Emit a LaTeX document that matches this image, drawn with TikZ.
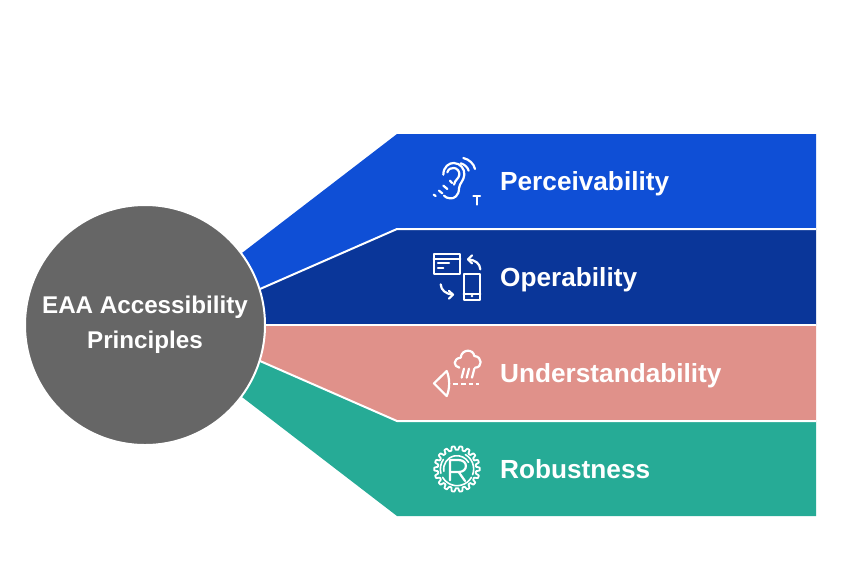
\documentclass[tikz,border=0pt]{standalone}
\usepackage{fontspec}
\setmainfont{Liberation Sans}
\definecolor{cblue}{HTML}{0F4FD6}
\definecolor{cnavy}{HTML}{0A3699}
\definecolor{cpink}{HTML}{E0918A}
\definecolor{cteal}{HTML}{26AB96}
\definecolor{cgrey}{HTML}{666666}
\tikzset{
  lbl/.style={text=white,font=\bfseries\fontsize{26.2}{31}\selectfont,anchor=base west,inner sep=0pt},
  hub/.style={circle,fill=cgrey,draw=white,line width=2pt,minimum size=240pt,inner sep=0pt,align=center,text=white,font=\bfseries\fontsize{24.2}{35}\selectfont},
  ico/.style={draw=white,line width=2.2pt,line cap=round,line join=round},
  icof/.style={x=0.3333pt,y=-0.3333pt}
}
\begin{document}
\begin{tikzpicture}[x=1pt,y=-1pt]
\useasboundingbox (0,0) rectangle (843,566);
% bands
\fill[cblue] (242,253) -- (397,134) -- (816,134) -- (816,229) -- (397,229) -- (260,289) -- cycle;
\fill[cteal] (242,397) -- (397,516) -- (816,516) -- (816,421) -- (397,421) -- (260,361) -- cycle;
\fill[cnavy] (260,289) -- (397,229) -- (816,229) -- (816,325) -- (262,325) -- cycle;
\fill[cpink] (260,361) -- (397,421) -- (816,421) -- (816,325) -- (262,325) -- cycle;
\draw[white,line width=2pt] (260,289) -- (397,229) -- (816,229);
\draw[white,line width=2pt] (262,325) -- (816,325);
\draw[white,line width=2pt] (260,361) -- (397,421) -- (816,421);
% hub
\node[hub] (hub) at (145,325) {EAA Accessibility\\Principles};
% labels
\node[lbl] (p) at (500,190.5) {Perceivability};
\node[lbl] (o) at (500,286.5) {Operability};
\node[lbl] (u) at (500,382.5) {Understandability};
\node[lbl] (r) at (500,478.5) {Robustness};
% ear icon
\begin{scope}[shift={(430,154)},icof]
\draw[ico] (40,62) .. controls (40,38) and (58,26) .. (72,27) .. controls (92,28) and (104,45) .. (103,62) .. controls (102,80) and (88,88) .. (87,103) .. controls (87,125) and (72,135) .. (60,133) .. controls (52,133) and (46,129) .. (42,125);
\draw[ico] (52,55) .. controls (55,44) and (65,41) .. (72,42) .. controls (82,43) and (89,52) .. (88,62) .. controls (87,74) and (74,78) .. (72,92);
\draw[ico] (100,12) .. controls (118,16) and (132,30) .. (135,45);
\draw[ico] (92,28) .. controls (104,31) and (113,40) .. (116,50);
\draw[ico] (11,122) -- (17,126);
\draw[ico] (27,110) -- (37,118);
\draw[ico] (40,95) -- (52,105);
\draw[ico] (60,80) -- (66,87);
\draw[ico] (130,127) -- (150,127) (140,127) -- (140,152);
\end{scope}
% operability icon
\begin{scope}[shift={(420,145)},icof]
\draw[ico] (41,326) rectangle (121,387);
\draw[ico] (41,341) -- (121,341);
\draw[ico] (54,355) -- (87,355) (54,368) -- (70,368);
\draw[ico] (131,386) rectangle (181,465);
\draw[ico] (131,446) -- (181,446);
\draw[ico] (181,373) .. controls (180,355) and (165,345) .. (145,343);
\draw[ico] (156,331) -- (144,343) -- (156,355);
\draw[ico] (62,418) .. controls (63,436) and (78,447) .. (98,449);
\draw[ico] (87,438) -- (99,449) -- (87,461);
\fill[white] (156,453) circle (4);
\end{scope}
% understandability icon
\begin{scope}[shift={(430,346)},icof]
\draw[ico] (12,112) -- (50,75) .. controls (60,98) and (60,128) .. (50,150) -- cycle;
\draw[ico,line cap=butt,dash pattern=on 4.6pt off 3pt] (70,115) -- (146,115);
\draw[ico] (88,65) .. controls (70,62) and (68,38) .. (92,35) .. controls (95,8) and (130,8) .. (133,30) .. controls (158,32) and (158,65) .. (135,65);
\draw[ico] (102,68) -- (95,95) (117,68) -- (110,95) (133,68) -- (126,95);
\end{scope}
% robustness icon
\begin{scope}[shift={(457,469)},icof]
\draw[ico,line width=1.8pt] plot[domain=0:360,samples=289] ({(63+5.5*tanh(3*cos(18*\x)))*cos(\x)},{(63+5.5*tanh(3*cos(18*\x)))*sin(\x)}) -- cycle;
\draw[ico,line width=1.6pt] (170:40) arc (170:330:40);
\draw[ico,line width=1.6pt] (300:50) arc (300:380:50);
\draw[ico,line width=1.6pt] (30:50) arc (30:150:50);
\draw[ico,line width=1.6pt] (165:50) arc (165:215:50);
\draw[ico] (-21,34) -- (-21,-27) -- (5,-27) .. controls (34,-27) and (34,9) .. (5,9) -- (-16,9);
\draw[ico] (5,9) -- (24,36);
\end{scope}
\end{tikzpicture}
\end{document}
